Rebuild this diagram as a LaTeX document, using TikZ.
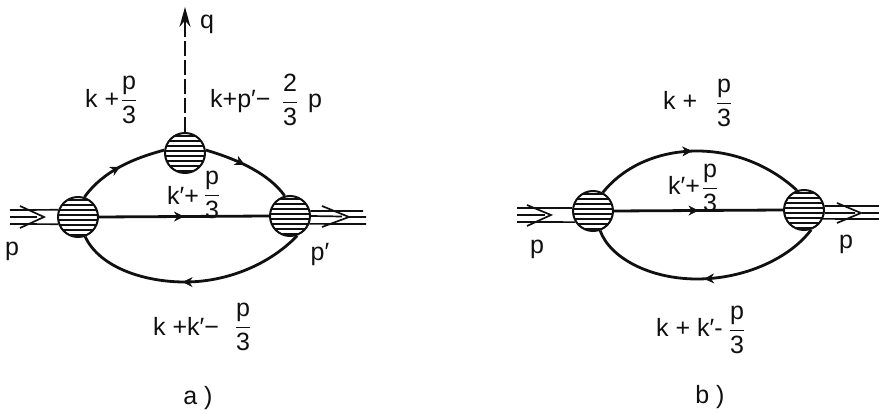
\documentclass[tikz,border=0pt]{standalone}
\usepackage{fontspec}
\setmainfont{Liberation Sans}
\usetikzlibrary{arrows.meta,decorations.markings}
\definecolor{ink}{HTML}{101010}
\newcommand{\frc}[2]{\ensuremath{\displaystyle\frac{\mbox{#1}}{\mbox{#2}}}}
\tikzset{
  x=1pt,y=-1pt,
  lbl/.style={inner sep=0pt,text=ink,font=\fontsize{25}{27}\selectfont},
  blob/.style={circle,draw=ink,line width=2pt,minimum size=40pt,inner sep=0pt,fill=white,
    path picture={
      \foreach \d in {-18,-13,...,19}{
        \draw[ink,line width=1.9pt] ([yshift=\d pt]path picture bounding box.west) -- ([yshift=\d pt]path picture bounding box.east);
      }}},
  prop/.style={ink,line width=2.8pt},
  marked/.style={postaction={decorate},decoration={markings,mark=at position #1 with {\arrow[line width=.6pt]{Stealth[length=10pt,width=10pt]}}}},
  thin3/.style={ink,line width=1.7pt},
  chev/.style={ink,line width=1.7pt,line join=miter},
}
\begin{document}
\begin{tikzpicture}
\useasboundingbox (0,0) rectangle (879,414);
\fill[white] (0,0) rectangle (879,414);
% ---- a)
\node[blob] (L) at (78,217) {};
\node[blob] (T) at (185,153) {};
\node[blob] (R) at (290,216) {};
\coordinate (qe) at (185,26);
\coordinate (qt) at (185,7);
\draw[ink,line width=2pt,dash pattern=on 15pt off 4pt] (T.north) -- (qe);
\draw[ink,line width=2pt,-{Stealth[length=20pt,width=11pt]}] (qe) -- (qt);
\draw[prop,marked=.5] (L.72) .. controls (104,170) and (135,158) .. (T.172);
\draw[prop,marked=.45] (T.8) .. controls (240,160) and (270,175) .. (R.105);
\draw[prop,marked=.5] (L.east) -- (R.west);
\draw[prop,marked=.53] (R.-70) .. controls (268,266) and (225,282) .. (185,282) .. controls (145,282) and (100,268) .. (L.-70);
% in/out lines
\coordinate (a1s) at (10,210); \coordinate (a2s) at (10,217); \coordinate (a3s) at (10,224);
\draw[thin3] (a1s) -- (L.160);
\draw[thin3] (a2s) -- (37,217);
\draw[thin3] (a3s) -- (L.200);
\coordinate (c1) at (20,206); \coordinate (c2) at (44,217); \coordinate (c3) at (20,228);
\draw[chev] (c1) -- (c2) -- (c3);
\draw[thin3] (R.14) -- (363,211);
\draw[thin3] (R.0) -- (342,216.5) (349,217) -- (366,217);
\draw[thin3] (R.-22) -- (366,224);
\coordinate (d1) at (322,206); \coordinate (d2) at (349,217); \coordinate (d3) at (322,227);
\draw[chev] (d1) -- (d2) -- (d3);
% labels a
\node[lbl] (q) at (207,24) {q};
\node[lbl,anchor=base west] (l1) at (85,108) {k +};
\node[lbl] (l1f) at (129,100) {\frc{p}{3}};
\node[lbl,anchor=base west] (l2) at (210,108) {k+p′−};
\node[lbl] (l2f) at (290,100) {\frc{2}{3}};
\node[lbl,anchor=base west] (l2p) at (308,108) {p};
\node[lbl,anchor=base west] (l3) at (167,205) {k′+};
\node[lbl] (l3f) at (212,195) {\frc{p}{3}};
\node[lbl] (pa) at (12,251) {p};
\node[lbl] (pb) at (320,254) {p′};
\node[lbl,anchor=base west] (l4) at (153,336) {k +k′−};
\node[lbl] (l4f) at (243,327) {\frc{p}{3}};
\node[lbl] (ca) at (198,398) {a )};
% ---- b)
\node[blob] (BL) at (593,211) {};
\node[blob] (BR) at (804,210) {};
\draw[prop,marked=.47] (BL.62) .. controls (625,165) and (660,151) .. (697,151) .. controls (740,151) and (775,170) .. (BR.110);
\draw[prop,marked=.5] (BL.east) -- (BR.west);
\draw[prop,marked=.5] (BR.-70) .. controls (790,258) and (745,279) .. (697,279) .. controls (650,279) and (610,258) .. (BL.-70);
\draw[thin3] (517,208) -- (BL.172);
\draw[thin3] (517,215) -- (545,215);
\draw[thin3] (517,222) -- (BL.212);
\coordinate (e1) at (527,205); \coordinate (e2) at (551,215); \coordinate (e3) at (527,226);
\draw[chev] (e1) -- (e2) -- (e3);
\draw[thin3] (BR.11) -- (879,206);
\draw[thin3] (BR.-8) -- (855,213) (862,213) -- (879,213);
\draw[thin3] (BR.-25) -- (879,219);
\coordinate (f1) at (837,203); \coordinate (f2) at (861,213); \coordinate (f3) at (837,223);
\draw[chev] (f1) -- (f2) -- (f3);
\node[lbl,anchor=base west] (m1) at (663,110) {k +};
\node[lbl] (m1f) at (724,103) {\frc{p}{3}};
\node[lbl,anchor=base west] (m2) at (668,195) {k′+};
\node[lbl] (m2f) at (710,188) {\frc{p}{3}};
\node[lbl] (pc) at (537,249) {p};
\node[lbl] (pd) at (846,244) {p};
\node[lbl,anchor=base west] (m4) at (656,337) {k + k′-};
\node[lbl] (m4f) at (737,330) {\frc{p}{3}};
\node[lbl] (cb) at (710,397) {b )};
\end{tikzpicture}
\end{document}
